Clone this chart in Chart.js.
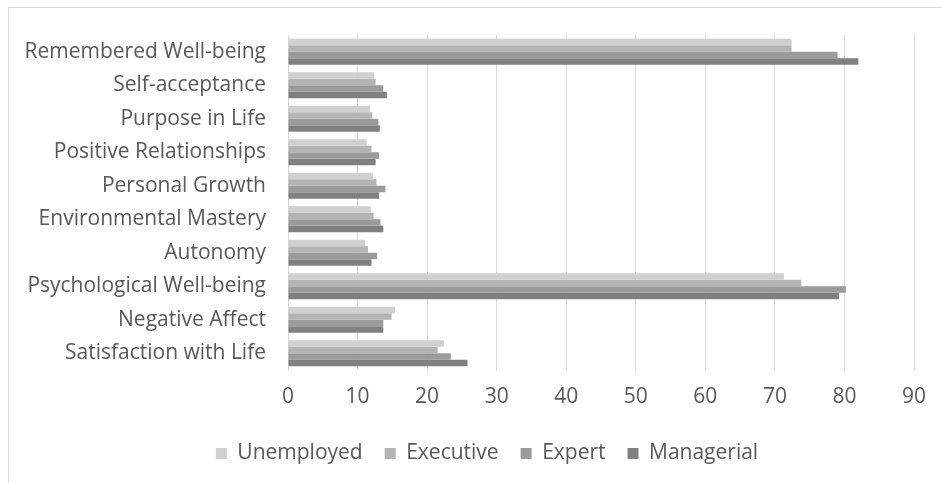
<!DOCTYPE html>
<html><head><meta charset="utf-8">
<script src="https://cdn.jsdelivr.net/npm/chart.js@4.4.1/dist/chart.umd.min.js"></script>
<style>html,body{margin:0;padding:0;background:#fff}#wrap{width:942px;height:483px;position:relative}</style>
</head><body><div id="wrap"><canvas id="c" width="942" height="483"></canvas></div>
<script>
const categories = ['Remembered Well-being','Self-acceptance','Purpose in Life','Positive Relationships','Personal Growth','Environmental Mastery','Autonomy','Psychological Well-being','Negative Affect','Satisfaction with Life'];
const seriesNames = ['Unemployed','Executive','Expert','Managerial'];
const unemployed = [72.4, 12.4, 11.8, 11.3, 12.2, 11.9, 11.1, 71.3, 15.4, 22.4];
const executive  = [72.4, 12.6, 12.1, 12.0, 12.7, 12.3, 11.5, 73.8, 14.9, 21.5];
const expert     = [79.0, 13.7, 13.0, 13.1, 14.0, 13.3, 12.8, 80.2, 13.7, 23.4];
const managerial = [82.0, 14.2, 13.2, 12.6, 13.1, 13.7, 12.0, 79.2, 13.7, 25.8];
const xTicks = [0, 10, 20, 30, 40, 50, 60, 70, 80, 90];

const colors = ['#d0d0d0', '#b4b4b4', '#9b9b9b', '#808080'];
const values = [unemployed, executive, expert, managerial];
const FONT = '"Open Sans", "Noto Sans", sans-serif';
const TXT = '#595959';

const framePlugin = {
  id: 'frame',
  beforeDraw(chart) {
    const ctx = chart.ctx;
    ctx.save();
    ctx.fillStyle = '#fff';
    ctx.fillRect(0, 0, chart.width, chart.height);
    ctx.strokeStyle = '#d9d9d9';
    ctx.lineWidth = 1;
    ctx.strokeRect(8.5, 7.5, 1200, 1200);
    ctx.restore();
  }
};
const legendShift = {
  id: 'legendShift',
  afterLayout(chart) {
    const l = chart.legend;
    if (l) { l.left = 8; l.right = 966; }
  }
};

new Chart(document.getElementById('c'), {
  type: 'bar',
  data: {
    labels: categories,
    datasets: seriesNames.map((n, i) => ({
      label: n,
      data: values[i],
      backgroundColor: colors[i],
      borderWidth: 0,
      categoryPercentage: 0.78,
      barPercentage: 1.0
    }))
  },
  options: {
    indexAxis: 'y',
    responsive: false,
    animation: false,
    devicePixelRatio: 1,
    layout: { padding: { top: 35, left: 8, right: 28, bottom: 9 } },
    plugins: {
      tooltip: { enabled: false },
      legend: {
        position: 'bottom',
        labels: {
          boxWidth: 11, boxHeight: 11, padding: 22,
          color: TXT, font: { family: FONT, size: 21 }
        }
      }
    },
    scales: {
      x: {
        min: 0, max: 90,
        afterBuildTicks(scale) { scale.ticks = xTicks.map(v => ({ value: v })); },
        afterFit(scale) { scale.height = 51; },
        grid: { color: '#d9d9d9', lineWidth: 1, drawTicks: false },
        border: { display: false },
        ticks: { color: TXT, font: { family: FONT, size: 21 }, padding: 14 }
      },
      y: {
        afterFit(scale) { scale.width = 280; },
        grid: { display: false, drawTicks: false },
        border: { display: true, color: '#d9d9d9' },
        ticks: { color: TXT, font: { family: FONT, size: 21 }, padding: 22 }
      }
    }
  },
  plugins: [framePlugin, legendShift]
});
</script></body></html>
